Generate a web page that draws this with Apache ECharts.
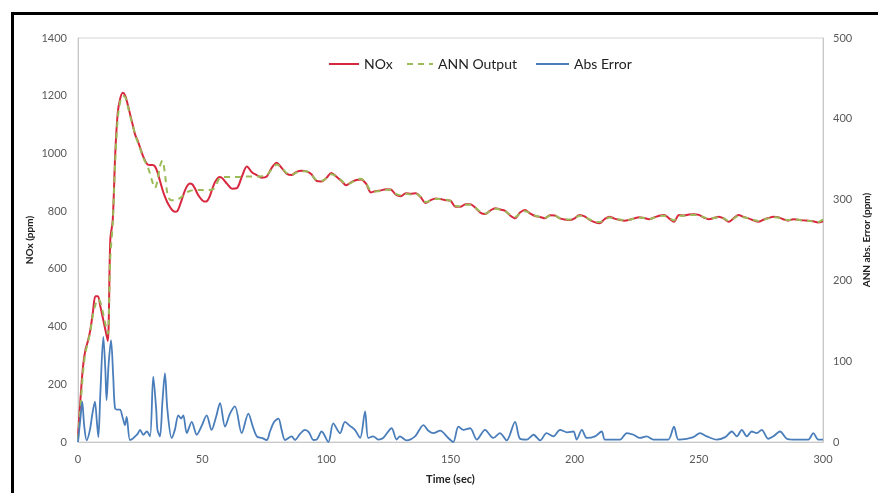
<!DOCTYPE html>
<html>
<head>
<meta charset="utf-8">
<title>NOx vs ANN output</title>
<script src="https://cdn.jsdelivr.net/npm/echarts@6/dist/echarts.min.js"></script>
<style>
  html, body { margin: 0; padding: 0; background: #fff; }
  #chart { width: 878px; height: 493px; }
</style>
</head>
<body>
<div id="chart"></div>
<script>
// Measured NOx concentration, [time (s), ppm]
const noxMeasured = [
  [0,20],[1,150],[2,260],[3,320],[4,350],[5,390],[6,450],[7,505],[8,505],[9,470],
  [10,430],[11,390],[12,350],[13,700],[14,770],[15,1000],[16,1140],[17,1190],[18,1210],[19,1200],
  [20,1170],[21,1135],[22,1100],[23,1065],[24,1045],[25,1020],[26,995],[27,975],[28,962],[29,960],
  [30,960],[31,955],[32,935],[33,905],[34,875],[35,850],[36,830],[37,815],[38,803],[39,798],
  [40,800],[41,820],[42,845],[43,870],[44,888],[45,896],[46,893],[47,880],[48,862],[49,848],
  [50,838],[51,833],[52,835],[53,850],[54,875],[55,898],[56,912],[57,918],[58,915],[59,905],
  [60,895],[62,878],[64,880],[66,920],[68,955],[70,935],[72,925],[74,916],[76,920],[78,950],
  [80,968],[82,950],[84,930],[86,925],[88,936],[90,940],[92,938],[94,928],[96,905],[98,903],
  [100,915],[102,932],[104,920],[106,905],[108,890],[110,900],[112,908],[114,910],[116,895],[118,865],
  [120,870],[122,872],[124,876],[126,875],[128,857],[130,852],[132,862],[134,860],[136,862],[138,848],
  [140,828],[142,838],[144,844],[146,842],[148,838],[150,836],[152,815],[154,815],[156,824],[158,824],
  [160,812],[162,795],[164,790],[166,802],[168,810],[170,806],[172,801],[174,785],[176,775],[178,795],
  [180,804],[182,792],[184,783],[186,780],[188,775],[190,786],[192,785],[194,775],[196,771],[198,769],
  [200,775],[202,787],[204,782],[206,770],[208,762],[210,758],[212,772],[214,781],[216,774],[218,770],
  [220,767],[222,770],[224,775],[226,779],[228,776],[230,772],[232,778],[234,784],[236,787],[238,775],
  [240,763],[242,787],[244,785],[246,788],[248,789],[250,787],[252,778],[254,772],[256,776],[258,781],
  [260,775],[262,763],[264,775],[266,787],[268,780],[270,775],[272,768],[274,763],[276,770],[278,776],
  [280,781],[282,779],[284,772],[286,767],[288,772],[290,770],[292,768],[294,767],[296,765],[298,761],
  [300,765]
];

// Neural network prediction, [time (s), ppm]
const annOutput = [
  [0,10],[1,120],[2,240],[3,310],[4,345],[5,385],[6,440],[7,475],[8,495],[9,485],
  [10,450],[11,410],[12,375],[13,640],[14,760],[15,975],[16,1120],[17,1180],[18,1200],[19,1195],
  [20,1165],[21,1130],[22,1098],[23,1068],[24,1040],[25,1018],[26,990],[27,972],[28,955],[29,930],
  [30,900],[31,880],[32,905],[33,955],[34,975],[35,930],[36,860],[37,840],[38,838],[39,838],
  [40,840],[41,845],[42,852],[43,860],[44,866],[45,870],[46,872],[47,873],[48,873],[49,873],
  [50,873],[51,872],[52,872],[53,873],[54,875],[55,880],[56,898],[57,914],[58,918],[59,918],
  [60,918],[62,918],[64,918],[66,919],[68,920],[70,920],[72,920],[74,921],[76,925],[78,945],
  [80,962],[82,950],[84,932],[86,926],[88,934],[90,938],[92,938],[94,926],[96,908],[98,905],
  [100,914],[102,928],[104,921],[106,907],[108,893],[110,898],[112,910],[114,912],[116,896],[118,870],
  [120,868],[122,870],[124,874],[126,873],[128,860],[130,855],[132,860],[134,858],[136,860],[138,850],
  [140,832],[142,836],[144,842],[146,842],[148,840],[150,835],[152,818],[154,816],[156,822],[158,822],
  [160,812],[162,798],[164,792],[166,800],[168,808],[170,806],[172,800],[174,788],[176,780],[178,792],
  [180,800],[182,793],[184,785],[186,780],[188,777],[190,784],[192,784],[194,776],[196,772],[198,771],
  [200,775],[202,784],[204,781],[206,771],[208,764],[210,762],[212,770],[214,778],[216,774],[218,771],
  [220,768],[222,770],[224,774],[226,778],[228,776],[230,773],[232,777],[234,782],[236,784],[238,776],
  [240,768],[242,784],[244,784],[246,786],[248,787],[250,786],[252,779],[254,774],[256,776],[258,779],
  [260,775],[262,766],[264,774],[266,784],[268,779],[270,775],[272,770],[274,766],[276,770],[278,775],
  [280,779],[282,778],[284,773],[286,769],[288,772],[290,770],[292,768],[294,767],[296,764],[298,762],
  [300,772]
];

// Absolute prediction error, [time (s), ppm] (secondary axis)
const absError = [
  [0,0],[1,30],[1.7,50],[2.5,20],[3.5,2],[4.8,15],[5.8,35],[6.8,50],[7.6,25],[8.2,6],
  [9,60],[10.2,130],[11,90],[11.5,52],[12.3,95],[13.3,126],[14.2,80],[14.9,42],[16,40],[16.9,40],
  [18,30],[18.9,21],[19.6,31],[20.9,2.5],[22,4],[23,7],[24,10],[25,15],[26.3,9],[27.7,13],
  [29,7],[30.3,81],[31.5,40],[32,15],[33,7],[34,50],[35,85],[36,40],[37.7,5],[39,15],
  [40.4,33],[41.5,29],[42.4,33],[43.8,11],[45.8,25],[47.8,9],[49.8,20],[51.8,33],[53.8,15],[55.5,30],
  [57.2,48],[59.2,19],[61.2,35],[63.2,44],[65.9,11],[68.6,35],[70.3,20],[72,7],[74,5],[76,2.5],
  [77.3,13],[79,25],[80.7,29],[82,15],[83.4,2.5],[86,7],[87.4,2.5],[89.4,10],[91.4,15],[93,12],
  [94.8,2.5],[96.1,3],[98.1,13],[100.8,0],[102.8,23],[105.5,11],[107.5,25],[109.5,20],[111.5,15],[113.6,5],
  [115.6,38],[116.9,5],[118.9,7],[120.9,3],[122.9,5],[126.3,17],[128.3,3],[129.6,7],[132.3,2],[135.7,7],
  [139.1,21],[141.1,14],[143.1,11],[145.8,14],[149.1,5],[151.1,0],[153.2,19],[155.2,15],[157.9,17],[160.6,3],
  [163.9,15],[167.2,5],[169.9,11],[172.6,2],[176,25],[178,4],[180.7,3],[183.4,9],[186.1,2],[188.7,11],
  [191.4,7],[194.1,15],[197,12],[199.5,13],[200.8,3],[202.9,15],[204.9,5],[208.2,7],[210.9,13],[212.2,3],
  [215.6,3],[218.3,3],[221,11],[223.7,9],[226.3,5],[229,7],[231.7,3],[234.4,3],[237.7,3],[240,19],
  [241.8,3],[245.1,4],[247.8,6],[250.5,11],[253.2,7],[257.2,3],[260.6,6],[263.3,13],[265.3,7],[267.3,15],
  [269.3,7],[271.3,13],[273.3,11],[275.3,15],[278,4],[280,7],[282.7,13],[285.4,4],[288.1,3],[290.8,3],
  [294.1,3],[296.1,11],[298.1,3],[300,3]
];

const FONT = 'Lato, "Open Sans", sans-serif';
const axisGray = '#c8c8c8';
const labelGray = '#595959';
const plainNumber = v => String(v);

// One legend block per series so each entry sits at its own spot
function legendEntry(name, left, width) {
  return {
    data: [name], left: left, top: 52,
    itemWidth: width, itemHeight: 12,
    itemStyle: { opacity: 0 },
    textStyle: { fontFamily: FONT, fontSize: 14, color: '#222' }
  };
}

const chart = echarts.init(document.getElementById('chart'), null, { renderer: 'canvas' });

chart.setOption({
  backgroundColor: '#ffffff',
  animation: false,
  textStyle: { fontFamily: FONT },
  graphic: [{
    type: 'rect',
    left: 10, top: 11,
    shape: { x: 0, y: 0, width: 1000, height: 1000 },
    style: { fill: 'none', stroke: '#000', lineWidth: 3 },
    silent: true
  }],
  grid: {
    left: 78, right: 55, top: 38, bottom: 51,
    outerBoundsMode: 'none',
    show: true, borderColor: '#d4d4d4', borderWidth: 1
  },
  legend: [
    legendEntry('NOx', 323, 30),
    legendEntry('ANN Output', 401, 26),
    legendEntry('Abs Error', 530, 33)
  ],
  xAxis: {
    type: 'value', min: 0, max: 300, interval: 50,
    name: 'Time (sec)', nameLocation: 'middle', nameGap: 32, nameMoveOverlap: false,
    nameTextStyle: { fontFamily: FONT, fontWeight: 'bold', fontSize: 11, color: '#222' },
    axisLine: { show: true, lineStyle: { color: axisGray } },
    axisTick: { show: false },
    axisLabel: { fontFamily: FONT, fontSize: 11, color: labelGray, margin: 12, formatter: plainNumber },
    splitLine: { show: false }
  },
  yAxis: [{
    type: 'value', min: 0, max: 1400, interval: 200,
    name: 'NOx (ppm)', nameLocation: 'middle', nameGap: 43, nameMoveOverlap: false,
    nameTextStyle: { fontFamily: FONT, fontWeight: 'bold', fontSize: 10, color: '#222' },
    axisLine: { show: true, lineStyle: { color: axisGray } },
    axisTick: { show: false },
    axisLabel: { fontFamily: FONT, fontSize: 11, color: labelGray, margin: 11, formatter: plainNumber },
    splitLine: { show: false }
  }, {
    type: 'value', min: 0, max: 500, interval: 100, position: 'right',
    name: 'ANN abs. Error (ppm)', nameLocation: 'middle', nameGap: 39, nameRotate: 90, nameMoveOverlap: false,
    nameTextStyle: { fontFamily: FONT, fontWeight: 'bold', fontSize: 10, color: '#222' },
    axisLine: { show: true, lineStyle: { color: axisGray } },
    axisTick: { show: false },
    axisLabel: { fontFamily: FONT, fontSize: 11, color: labelGray, margin: 10, formatter: plainNumber },
    splitLine: { show: false }
  }],
  series: [{
    name: 'NOx', type: 'line', yAxisIndex: 0,
    data: noxMeasured, smooth: 0.3, symbol: 'none',
    lineStyle: { color: '#d8283f', width: 2 },
    itemStyle: { color: '#d8283f' }
  }, {
    name: 'ANN Output', type: 'line', yAxisIndex: 0,
    data: annOutput, smooth: 0.3, symbol: 'none',
    lineStyle: { color: '#9bbb59', width: 2, type: [6, 5] },
    itemStyle: { color: '#9bbb59' }
  }, {
    name: 'Abs Error', type: 'line', yAxisIndex: 1,
    data: absError, smooth: 0.3, symbol: 'none',
    lineStyle: { color: '#4a7ebb', width: 1.8 },
    itemStyle: { color: '#4a7ebb' }
  }]
});
</script>
</body>
</html>
